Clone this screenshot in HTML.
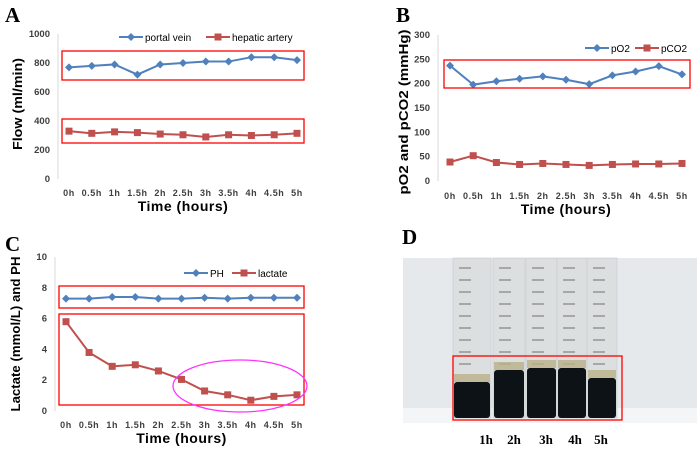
<!DOCTYPE html>
<html><head><meta charset="utf-8">
<style>
html,body{margin:0;padding:0;background:#fff;}
svg{display:block;font-family:"Liberation Sans",sans-serif;}
.tick{font-size:9px;font-weight:bold;fill:#404040;letter-spacing:0.6px;}
.ytick{font-size:9.5px;font-weight:bold;fill:#404040;}
.ttl{font-size:14px;font-weight:bold;fill:#000;letter-spacing:0.5px;}
.yttl{font-size:13px;font-weight:bold;fill:#000;}
.lg{font-size:10px;fill:#000;}
.pl{font-family:"Liberation Serif",serif;font-size:21px;font-weight:bold;fill:#000;}
</style></head><body>
<svg id="fig" width="700" height="461" viewBox="0 0 700 461" xmlns="http://www.w3.org/2000/svg"></svg>
<script>
const categories = ["0h","0.5h","1h","1.5h","2h","2.5h","3h","3.5h","4h","4.5h","5h"];
const portalVein = [770,780,790,720,790,800,810,810,840,840,820];
const hepaticArtery = [330,315,325,320,310,305,290,305,300,305,315];
const flowTicks = [0,200,400,600,800,1000];
const pO2 = [237,198,205,210,215,208,199,217,225,236,219];
const pCO2 = [39,52,38,34,36,34,32,34,35,35,36];
const gasTicks = [0,50,100,150,200,250,300];
const ph = [7.3,7.3,7.4,7.4,7.3,7.3,7.35,7.3,7.35,7.35,7.35];
const lactate = [5.8,3.8,2.9,3.0,2.6,2.05,1.3,1.05,0.7,0.95,1.05];
const lacTicks = [0,2,4,6,8,10];
const tubeLabels = ["1h","2h","3h","4h","5h"];

const NS="http://www.w3.org/2000/svg";
const svg=document.getElementById('fig');
function mk(tag,attrs,parent){const e=document.createElementNS(NS,tag);for(const k in attrs)e.setAttribute(k,attrs[k]);(parent||svg).appendChild(e);return e;}
const BLUE="#4f81bd",RED="#c0504d";

function chart(cfg){
  const g=mk('g',{});
  
  
  const yS=v=>cfg.y0+(cfg.y1-cfg.y0)*(v-cfg.min)/(cfg.max-cfg.min);
  const xS=i=>cfg.x0+(cfg.x1-cfg.x0)*i/(categories.length-1);
  const ax=mk('line',{x1:cfg.ax,y1:cfg.y1,x2:cfg.ax,y2:cfg.y0,stroke:"#d9d9d9","stroke-width":1},g);
  
  cfg.ticks.forEach(t=>{const e=mk('text',{x:cfg.ax-8,y:yS(t)+3,'text-anchor':'end',class:'ytick'},g);e.textContent=t;
    });
  categories.forEach((c,i)=>{const e=mk('text',{x:xS(i),y:cfg.xly,'text-anchor':'middle',class:'tick'},g);e.textContent=c;
    });
  const xt=mk('text',{x:(cfg.x0+cfg.x1)/2,y:cfg.xly+15,'text-anchor':'middle',class:'ttl'},g);xt.textContent="Time (hours)";
  
  const yt=mk('text',{x:0,y:0,'text-anchor':'middle',class:'yttl',textLength:cfg.ytl,lengthAdjust:'spacingAndGlyphs',transform:`translate(${cfg.ytx},${cfg.ytc}) rotate(-90)`},g);yt.textContent=cfg.ytitle;
  
  cfg.series.forEach(s=>{
    const pts=s.data.map((v,i)=>xS(i)+','+yS(v)).join(' ');
    const pl=mk('polyline',{points:pts,fill:'none',stroke:s.color,'stroke-width':2},g);
    
    s.data.forEach((v,i)=>{
      const m=marker(g,s,xS(i),yS(v));
      
    });
    const ll=mk('line',{x1:s.lx-12,y1:cfg.ly,x2:s.lx+12,y2:cfg.ly,stroke:s.color,'stroke-width':2},g);
    
    const lm=marker(g,s,s.lx,cfg.ly);
    
    const lt=mk('text',{x:s.lx+14,y:cfg.ly+4,class:'lg'},g);lt.textContent=s.label;
    
  });
  return g;
}
function marker(g,s,x,y){
  if(s.shape==='d') return mk('polygon',{points:`${x},${y-4} ${x+4},${y} ${x},${y+4} ${x-4},${y}`,fill:s.color},g);
  return mk('rect',{x:x-3.5,y:y-3.5,width:7,height:7,fill:s.color},g);
}
function box(x,y,w,h,name){const r=mk('rect',{x:x,y:y,width:w,height:h,fill:'none',stroke:'#ff0000','stroke-width':1.3});
  return r;}
function label(t,x,y){const e=mk('text',{x:x,y:y,class:'pl'});e.textContent=t;
  }

// Panel A
label("A",5,22);
chart({name:'flow-chart',x0:69,x1:297,ax:58,y0:179,y1:34,min:0,max:1000,ticks:flowTicks,xly:196,ytx:22,ytc:104,ytl:92,ytitle:"Flow (ml/min)",ly:37,
  series:[{key:'portal-vein',label:'portal vein',data:portalVein,color:BLUE,shape:'d',lx:131},
          {key:'hepatic-artery',label:'hepatic artery',data:hepaticArtery,color:RED,shape:'s',lx:218}]});
box(62,51,242,29,'highlight-box-portal');
box(62,119,242,24,'highlight-box-hepatic');

// Panel B
label("B",396,22);
chart({name:'blood-gas-chart',x0:450,x1:682,ax:438,y0:181,y1:35,min:0,max:300,ticks:gasTicks,xly:199,ytx:408,ytc:112,ytl:165,ytitle:"pO2 and pCO2 (mmHg)",ly:48,
  series:[{key:'po2',label:'pO2',data:pO2,color:BLUE,shape:'d',lx:597},
          {key:'pco2',label:'pCO2',data:pCO2,color:RED,shape:'s',lx:647}]});
box(444,60,246,28,'highlight-box-po2');

// Panel C
label("C",5,251);
chart({name:'lactate-ph-chart',x0:66,x1:297,ax:55,y0:411,y1:257,min:0,max:10,ticks:lacTicks,xly:428,ytx:20,ytc:334,ytl:155,ytitle:"Lactate (mmol/L) and PH",ly:273,
  series:[{key:'ph',label:'PH',data:ph,color:BLUE,shape:'d',lx:196},
          {key:'lactate',label:'lactate',data:lactate,color:RED,shape:'s',lx:244}]});
box(59,286,245,22,'highlight-box-ph');
box(59,314,245,91,'highlight-box-lactate');
const el=mk('ellipse',{cx:240,cy:386,rx:67,ry:26,fill:'none',stroke:'#ff33ff','stroke-width':1.3});


// Panel D
label("D",402,244);
const ph1=mk('rect',{x:403,y:258,width:294,height:165,fill:'#e6e9ec'});

const tray=mk('rect',{x:403,y:408,width:294,height:15,fill:'#f4f5f6'});

const tubeL=[453,493,526,557,587],tubeW=[38,32,31,30,30],dark=[382,370,368,368,378];
tubeL.forEach((x,i)=>{
  const t=mk('rect',{x:x,y:258,width:tubeW[i],height:160,fill:'#dcdfe0',stroke:'#c8cbcc','stroke-width':0.6});
  
  for(let k=0;k<9;k++){const ly=268+k*12;mk('line',{x1:x+6,y1:ly,x2:x+18,y2:ly,stroke:'#555','stroke-width':0.8});}
  mk('rect',{x:x+1,y:dark[i]-8,width:tubeW[i]-2,height:8,fill:'#b9b08a',opacity:0.8});
  const d=mk('rect',{x:x+1,y:dark[i],width:tubeW[i]-2,height:418-dark[i],rx:3,fill:'#0c1216'});
  
});
box(453,356,169,64,'highlight-box-tubes');
const tx=[486,514,546,575,601];
tubeLabels.forEach((l,i)=>{const e=mk('text',{x:tx[i],y:444,'text-anchor':'middle',style:'font-family:"Liberation Serif",serif;font-size:13px;font-weight:bold'});e.textContent=l;
  });
</script>
</body></html>
